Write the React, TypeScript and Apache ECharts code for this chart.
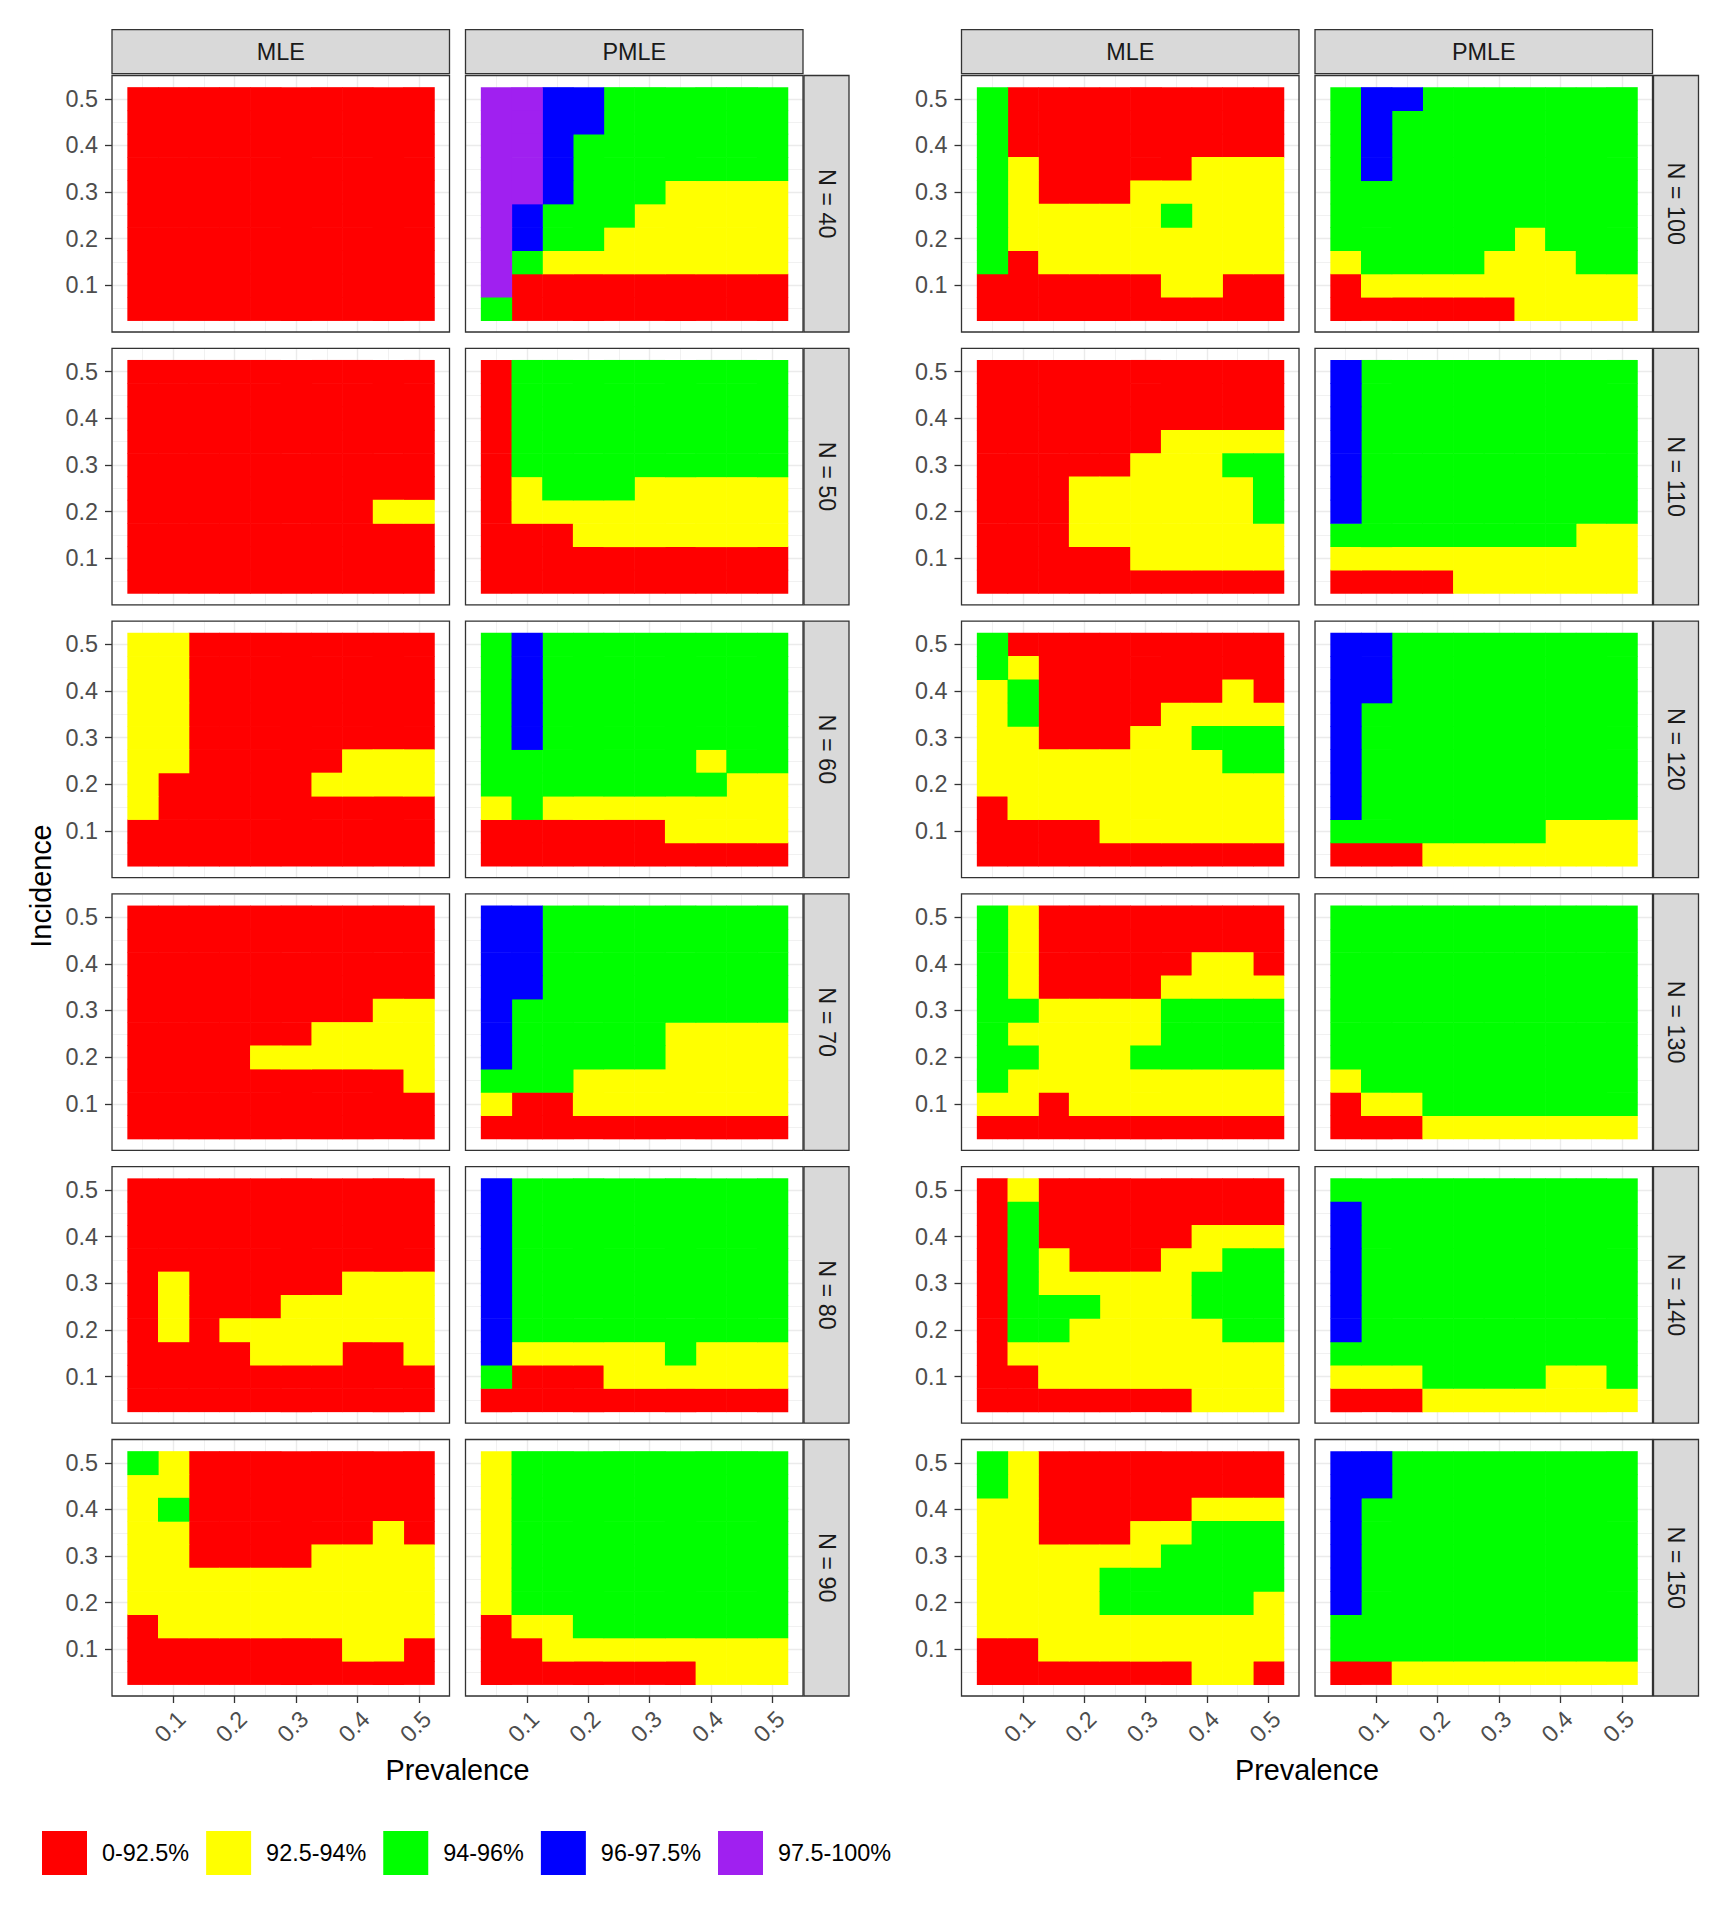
import React, { useEffect, useRef } from "react";
import * as echarts from "echarts";

// ---------- data ----------
const prevalence = [0.05, 0.1, 0.15, 0.2, 0.25, 0.3, 0.35, 0.4, 0.45, 0.5];
const incidence = [0.5, 0.45, 0.4, 0.35, 0.3, 0.25, 0.2, 0.15, 0.1, 0.05]; // grid rows, top to bottom
const sampleSizes = [40, 50, 60, 70, 80, 90, 100, 110, 120, 130, 140, 150];
const methods = ["MLE", "PMLE"];
const coverageLabels = ["0-92.5%", "92.5-94%", "94-96%", "96-97.5%", "97.5-100%"];
const coverageCodes = ["R", "Y", "G", "B", "P"];
const coverageColors = ["#FF0000", "#FFFF00", "#00FF00", "#0000FF", "#A020F0"];
const tickValues = [0.1, 0.2, 0.3, 0.4, 0.5];

const mle40 = ["RRRRRRRRRR", "RRRRRRRRRR", "RRRRRRRRRR", "RRRRRRRRRR", "RRRRRRRRRR", "RRRRRRRRRR", "RRRRRRRRRR", "RRRRRRRRRR", "RRRRRRRRRR", "RRRRRRRRRR"];
const pmle40 = ["PPBBGGGGGG", "PPBBGGGGGG", "PPBGGGGGGG", "PPBGGGGGGG", "PPBGGGYYYY", "PBGGGYYYYY", "PBGGYYYYYY", "PGYYYYYYYY", "PRRRRRRRRR", "GRRRRRRRRR"];
const mle50 = ["RRRRRRRRRR", "RRRRRRRRRR", "RRRRRRRRRR", "RRRRRRRRRR", "RRRRRRRRRR", "RRRRRRRRRR", "RRRRRRRRYY", "RRRRRRRRRR", "RRRRRRRRRR", "RRRRRRRRRR"];
const pmle50 = ["RGGGGGGGGG", "RGGGGGGGGG", "RGGGGGGGGG", "RGGGGGGGGG", "RGGGGGGGGG", "RYGGGYYYYY", "RYYYYYYYYY", "RRRYYYYYYY", "RRRRRRRRRR", "RRRRRRRRRR"];
const mle60 = ["YYRRRRRRRR", "YYRRRRRRRR", "YYRRRRRRRR", "YYRRRRRRRR", "YYRRRRRRRR", "YYRRRRRYYY", "YRRRRRYYYY", "YRRRRRRRRR", "RRRRRRRRRR", "RRRRRRRRRR"];
const pmle60 = ["GBGGGGGGGG", "GBGGGGGGGG", "GBGGGGGGGG", "GBGGGGGGGG", "GBGGGGGGGG", "GGGGGGGYGG", "GGGGGGGGYY", "YGYYYYYYYY", "RRRRRRYYYY", "RRRRRRRRRR"];
const mle70 = ["RRRRRRRRRR", "RRRRRRRRRR", "RRRRRRRRRR", "RRRRRRRRRR", "RRRRRRRRYY", "RRRRRRYYYY", "RRRRYYYYYY", "RRRRRRRRRY", "RRRRRRRRRR", "RRRRRRRRRR"];
const pmle70 = ["BBGGGGGGGG", "BBGGGGGGGG", "BBGGGGGGGG", "BBGGGGGGGG", "BGGGGGGGGG", "BGGGGGYYYY", "BGGGGGYYYY", "GGGYYYYYYY", "YRRYYYYYYY", "RRRRRRRRRR"];
const mle80 = ["RRRRRRRRRR", "RRRRRRRRRR", "RRRRRRRRRR", "RRRRRRRRRR", "RYRRRRRYYY", "RYRRRYYYYY", "RYRYYYYYYY", "RRRRYYYRRY", "RRRRRRRRRR", "RRRRRRRRRR"];
const pmle80 = ["BGGGGGGGGG", "BGGGGGGGGG", "BGGGGGGGGG", "BGGGGGGGGG", "BGGGGGGGGG", "BGGGGGGGGG", "BGGGGGGGGG", "BYYYYYGYYY", "GRRRYYYYYY", "RRRRRRRRRR"];
const mle90 = ["GYRRRRRRRR", "YYRRRRRRRR", "YGRRRRRRRR", "YYRRRRRRYR", "YYRRRRYYYY", "YYYYYYYYYY", "YYYYYYYYYY", "RYYYYYYYYY", "RRRRRRRYYR", "RRRRRRRRRR"];
const pmle90 = ["YGGGGGGGGG", "YGGGGGGGGG", "YGGGGGGGGG", "YGGGGGGGGG", "YGGGGGGGGG", "YGGGGGGGGG", "YGGGGGGGGG", "RYYGGGGGGG", "RRYYYYYYYY", "RRRRRRRYYY"];
const mle100 = ["GRRRRRRRRR", "GRRRRRRRRR", "GRRRRRRRRR", "GYRRRRRYYY", "GYRRRYYYYY", "GYYYYYGYYY", "GYYYYYYYYY", "GRYYYYYYYY", "RRRRRRYYRR", "RRRRRRRRRR"];
const pmle100 = ["GBBGGGGGGG", "GBGGGGGGGG", "GBGGGGGGGG", "GBGGGGGGGG", "GGGGGGGGGG", "GGGGGGGGGG", "GGGGGGYGGG", "YGGGGYYYGG", "RYYYYYYYYY", "RRRRRRYYYY"];
const mle110 = ["RRRRRRRRRR", "RRRRRRRRRR", "RRRRRRRRRR", "RRRRRRYYYY", "RRRRRYYYGG", "RRRYYYYYYG", "RRRYYYYYYG", "RRRYYYYYYY", "RRRRRYYYYY", "RRRRRRRRRR"];
const pmle110 = ["BGGGGGGGGG", "BGGGGGGGGG", "BGGGGGGGGG", "BGGGGGGGGG", "BGGGGGGGGG", "BGGGGGGGGG", "BGGGGGGGGG", "GGGGGGGGYY", "YYYYYYYYYY", "RRRRYYYYYY"];
const mle120 = ["GRRRRRRRRR", "GYRRRRRRRR", "YGRRRRRRYR", "YGRRRRYYYY", "YYRRRYYGGG", "YYYYYYYYGG", "YYYYYYYYYY", "RYYYYYYYYY", "RRRRYYYYYY", "RRRRRRRRRR"];
const pmle120 = ["BBGGGGGGGG", "BBGGGGGGGG", "BBGGGGGGGG", "BGGGGGGGGG", "BGGGGGGGGG", "BGGGGGGGGG", "BGGGGGGGGG", "BGGGGGGGGG", "GGGGGGGYYY", "RRRYYYYYYY"];
const mle130 = ["GYRRRRRRRR", "GYRRRRRRRR", "GYRRRRRYYR", "GYRRRRYYYY", "GGYYYYGGGG", "GYYYYYGGGG", "GGYYYGGGGG", "GYYYYYYYYY", "YYRYYYYYYY", "RRRRRRRRRR"];
const pmle130 = ["GGGGGGGGGG", "GGGGGGGGGG", "GGGGGGGGGG", "GGGGGGGGGG", "GGGGGGGGGG", "GGGGGGGGGG", "GGGGGGGGGG", "YGGGGGGGGG", "RYYGGGGGGG", "RRRYYYYYYY"];
const mle140 = ["RYRRRRRRRR", "RGRRRRRRRR", "RGRRRRRYYY", "RGYRRRYYGG", "RGYYYYYGGG", "RGGGYYYGGG", "RGGYYYYYGG", "RYYYYYYYYY", "RRYYYYYYYY", "RRRRRRRYYY"];
const pmle140 = ["GGGGGGGGGG", "BGGGGGGGGG", "BGGGGGGGGG", "BGGGGGGGGG", "BGGGGGGGGG", "BGGGGGGGGG", "BGGGGGGGGG", "GGGGGGGGGG", "YYYGGGGYYG", "RRRYYYYYYY"];
const mle150 = ["GYRRRRRRRR", "GYRRRRRRRR", "YYRRRRRYYY", "YYRRRYYGGG", "YYYYYYGGGG", "YYYYGGGGGG", "YYYYGGGGGY", "YYYYYYYYYY", "RRYYYYYYYY", "RRRRRRRYYR"];
const pmle150 = ["BBGGGGGGGG", "BBGGGGGGGG", "BGGGGGGGGG", "BGGGGGGGGG", "BGGGGGGGGG", "BGGGGGGGGG", "BGGGGGGGGG", "GGGGGGGGGG", "GGGGGGGGGG", "RRYYYYYYYY"];

const panelGrids = [
  [mle40, pmle40], [mle50, pmle50], [mle60, pmle60], [mle70, pmle70],
  [mle80, pmle80], [mle90, pmle90], [mle100, pmle100], [mle110, pmle110],
  [mle120, pmle120], [mle130, pmle130], [mle140, pmle140], [mle150, pmle150],
];

// ---------- layout ----------
const FONT = "'Liberation Sans', Arial, Helvetica, sans-serif";
const colLeft = [112, 465.5, 961.5, 1315];
const PW = 337.5;
const PH = 256.5;
const rowTop = (r: number) => 75.5 + r * 272.8;
const STRIP_TOP = 29.6;
const STRIP_H = 44;
const STRIP_W = 45;
const BORDER = "#333333";
const GRID_C = "#EBEBEB";

function buildOption() {
  const grid: any[] = [];
  const xAxis: any[] = [];
  const yAxis: any[] = [];
  const series: any[] = [];
  const graphic: any[] = [];

  let p = 0;
  sampleSizes.forEach((n, k) => {
    const g = k < 6 ? 0 : 1;
    const r = k % 6;
    methods.forEach((m, mi) => {
      const left = colLeft[g * 2 + mi];
      const top = rowTop(r);
      grid.push({ left, top, width: PW, height: PH, show: false });
      const bottomRow = r === 5;
      const leftCol = mi === 0;
      // major x
      xAxis.push({
        type: "value", gridIndex: p, min: 0, max: 0.55, interval: 0.1, position: "bottom",
        axisLine: { show: false },
        axisTick: { show: bottomRow, length: 7, customValues: tickValues, lineStyle: { color: BORDER, width: 1.3 } },
        axisLabel: {
          show: bottomRow, customValues: tickValues, rotate: 45, align: "right", verticalAlign: "top",
          margin: 11, fontSize: 23.4, color: "#4D4D4D", fontFamily: FONT,
          formatter: (v: number) => (v > 0.05 && v < 0.52 ? v.toFixed(1) : ""),
        },
        splitLine: { show: true, lineStyle: { color: GRID_C, width: 1.4 } },
      });
      // minor x
      xAxis.push({
        type: "value", gridIndex: p, min: 0, max: 0.55, interval: 0.05, position: "top",
        axisLine: { show: false }, axisTick: { show: false }, axisLabel: { show: false },
        splitLine: { show: true, lineStyle: { color: GRID_C, width: 0.7 } },
      });
      yAxis.push({
        type: "value", gridIndex: p, min: 0, max: 0.55, interval: 0.1, position: "left",
        axisLine: { show: false },
        axisTick: { show: leftCol, length: 7, customValues: tickValues, lineStyle: { color: BORDER, width: 1.3 } },
        axisLabel: {
          show: leftCol, customValues: tickValues, margin: 14, fontSize: 23.4, color: "#4D4D4D", fontFamily: FONT,
          formatter: (v: number) => (v > 0.05 && v < 0.52 ? v.toFixed(1) : ""),
        },
        splitLine: { show: true, lineStyle: { color: GRID_C, width: 1.4 } },
      });
      yAxis.push({
        type: "value", gridIndex: p, min: 0, max: 0.55, interval: 0.05, position: "right",
        axisLine: { show: false }, axisTick: { show: false }, axisLabel: { show: false },
        splitLine: { show: true, lineStyle: { color: GRID_C, width: 0.7 } },
      });

      const cells = panelGrids[k][mi];
      coverageCodes.forEach((code, ci) => {
        const data: number[][] = [];
        cells.forEach((row, ri) => {
          for (let c = 0; c < row.length; c++) {
            if (row[c] === code) data.push([prevalence[c], incidence[ri]]);
          }
        });
        const color = coverageColors[ci];
        series.push({
          type: "custom",
          name: coverageLabels[ci],
          xAxisIndex: p * 2,
          yAxisIndex: p * 2,
          itemStyle: { color },
          encode: { x: 0, y: 1 },
          data,
          z: 2,
          renderItem: (params: any, api: any) => {
            const x = api.value(0);
            const y = api.value(1);
            const a = api.coord([x - 0.025, y + 0.025]);
            const b = api.coord([x + 0.025, y - 0.025]);
            return {
              type: "rect",
              shape: { x: a[0], y: a[1], width: b[0] - a[0] + 0.6, height: b[1] - a[1] + 0.6 },
              style: { fill: color },
            };
          },
        });
      });

      // panel border
      graphic.push({
        type: "rect", z: 100, silent: true,
        shape: { x: left, y: top, width: PW, height: PH },
        style: { fill: "none", stroke: BORDER, lineWidth: 1.3 },
      });
      // top strip
      if (r === 0) {
        graphic.push({
          type: "rect", z: 100, silent: true,
          shape: { x: left, y: STRIP_TOP, width: PW, height: STRIP_H },
          style: { fill: "#D9D9D9", stroke: BORDER, lineWidth: 1.3 },
        });
        graphic.push({
          type: "text", z: 101, silent: true,
          x: left + PW / 2, y: STRIP_TOP + STRIP_H / 2,
          style: { text: m, fontSize: 23.4, fontFamily: FONT, fill: "#1A1A1A", align: "center", verticalAlign: "middle" },
        });
      }
      p++;
    });
    // right strip
    const sx = colLeft[g * 2 + 1] + PW + 1;
    const top = rowTop(r);
    graphic.push({
      type: "rect", z: 100, silent: true,
      shape: { x: sx, y: top, width: STRIP_W, height: PH },
      style: { fill: "#D9D9D9", stroke: BORDER, lineWidth: 1.3 },
    });
    graphic.push({
      type: "text", z: 101, silent: true,
      x: sx + STRIP_W / 2, y: top + PH / 2, rotation: -Math.PI / 2,
      style: { text: "N = " + n, fontSize: 23.4, fontFamily: FONT, fill: "#1A1A1A", align: "center", verticalAlign: "middle" },
    });
  });

  // axis titles
  graphic.push({
    type: "text", z: 101, silent: true, x: 41, y: 886, rotation: Math.PI / 2,
    style: { text: "Incidence", fontSize: 28.8, fontFamily: FONT, fill: "#000", align: "center", verticalAlign: "middle" },
  });
  [0, 1].forEach((g) => {
    const cx = (colLeft[g * 2] + colLeft[g * 2 + 1] + PW) / 2;
    graphic.push({
      type: "text", z: 101, silent: true, x: cx, y: 1770,
      style: { text: "Prevalence", fontSize: 28.8, fontFamily: FONT, fill: "#000", align: "center", verticalAlign: "middle" },
    });
  });

  return {
    animation: false,
    backgroundColor: "#FFFFFF",
    textStyle: { fontFamily: FONT },
    grid, xAxis, yAxis, series, graphic,
    legend: {
      show: true, orient: "horizontal", left: 42, top: 1831, padding: 0,
      itemWidth: 45, itemHeight: 44, itemGap: 17, icon: "rect", selectedMode: false,
      data: coverageLabels,
      textStyle: { fontSize: 23.4, color: "#000", fontFamily: FONT, padding: [0, 0, 0, 10] },
    },
  };
}

export default function App() {
  const ref = useRef<HTMLDivElement>(null);
  useEffect(() => {
    if (!ref.current) return;
    const chart = echarts.init(ref.current, null, { renderer: "svg" });
    chart.setOption(buildOption() as any);
    return () => chart.dispose();
  }, []);
  return (
    <div
      ref={ref}
      style={{ position: "absolute", left: 0, top: 0, width: 1728, height: 1920, background: "#FFFFFF" }}
    />
  );
}
